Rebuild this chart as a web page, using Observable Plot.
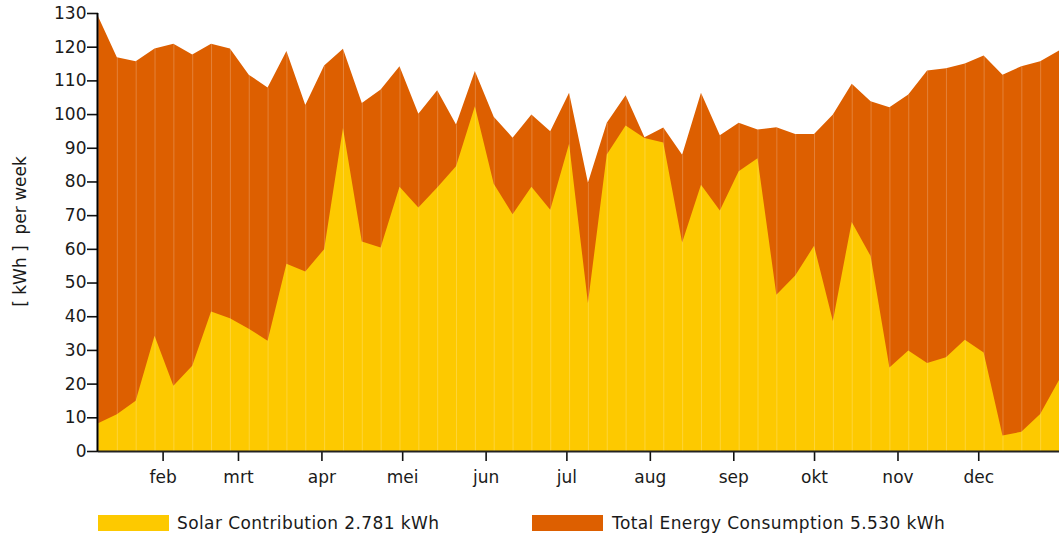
<!DOCTYPE html>
<html>
<head>
<meta charset="utf-8">
<script src="https://cdn.jsdelivr.net/npm/d3@7"></script>
<script src="https://cdn.jsdelivr.net/npm/@observablehq/plot@0.6"></script>
<style>
  html, body { margin: 0; padding: 0; background: #fff; }
  body { width: 1062px; height: 538px; overflow: hidden; font-family: "DejaVu Sans", sans-serif; }
  svg text { white-space: pre; }
  #legend { position: relative; height: 48px; }
  .sw { position: absolute; top: 25px; width: 71px; height: 16px; }
  .lt { position: absolute; top: 22px; font-size: 17px; line-height: 22px; color: #1a1a1a; letter-spacing: 0.4px; white-space: pre; }
</style>
</head>
<body>
<div id="chart"></div>
<div id="legend"></div>
<script>
// Week numbers (points at the end of each week)
const weeks = d3.range(1, 53);
// Solar contribution per week (kWh)
const solar = [8.2, 10.9, 14.9, 34.2, 19.4, 25.3, 41.4, 39.4, 36.3, 32.7,
  55.6, 53.3, 59.9, 95.9, 62.2, 60.4, 78.4, 72.3, 78.2, 84.5,
  102.3, 79.3, 70.3, 78.4, 71.6, 91.2, 43.9, 88.0, 96.6, 92.9,
  91.6, 61.9, 79.0, 71.4, 83.0, 86.9, 46.4, 52.1, 60.9, 38.6,
  68.0, 57.9, 24.8, 29.8, 26.1, 27.8, 33.0, 29.2, 4.6, 5.7,
  11.0, 21.1];
// Total energy consumption per week (kWh)
const total = [129.0, 116.9, 115.7, 119.5, 120.9, 117.7, 120.9, 119.5, 111.7, 107.9,
  118.7, 102.7, 114.4, 119.4, 103.3, 107.3, 114.2, 100.1, 107.1, 96.9,
  112.8, 99.2, 93.0, 99.9, 94.9, 106.3, 79.6, 97.4, 105.6, 93.1,
  96.0, 87.9, 106.3, 93.7, 97.4, 95.4, 96.1, 94.1, 94.1, 99.9,
  109.0, 103.8, 102.0, 105.8, 112.9, 113.6, 115.0, 117.4, 111.7, 114.2,
  115.7, 118.9];
const monthLabels = ["feb", "mrt", "apr", "mei", "jun", "jul", "aug", "sep", "okt", "nov", "dec"];
const yTicks = d3.range(0, 131, 10);
const yLabel = "[ kWh ]  per week";
const series = [
  {name: "Solar Contribution 2.781 kWh", color: "#fdc900"},
  {name: "Total Energy Consumption 5.530 kWh", color: "#dd5f00"}
];

const year = 2013;
const data = weeks.map((w, i) => ({
  date: new Date(Date.UTC(year, 0, 1 + 7 * w)),
  solar: solar[i],
  total: total[i]
}));
const monthTicks = monthLabels.map((m, i) => new Date(Date.UTC(year, i + 1, 1)));
const fmtMonth = d => monthLabels[d.getUTCMonth() - 1];
const FS = 17;

const chart = Plot.plot({
  width: 1062,
  height: 490,
  marginLeft: 98,
  marginRight: 3,
  marginTop: 13,
  marginBottom: 39,
  style: {fontFamily: "DejaVu Sans, sans-serif", fontSize: FS + "px", color: "#1a1a1a", background: "white", overflow: "visible"},
  x: {type: "utc", domain: [data[0].date, data[data.length - 1].date]},
  y: {domain: [0, 130]},
  marks: [
    Plot.areaY(data, {x: "date", y: "total", fill: series[1].color}),
    Plot.areaY(data, {x: "date", y: "solar", fill: series[0].color}),
    Plot.ruleX(data, {x: "date", y1: 0, y2: "total", stroke: "white", strokeOpacity: 0.22, strokeWidth: 1}),
    Plot.axisY({ticks: yTicks, tickSize: 11, tickPadding: 1, strokeWidth: 1.6, stroke: "#111", label: null, fontSize: FS}),
    Plot.axisX({ticks: monthTicks, tickFormat: fmtMonth, tickSize: 10, tickPadding: 9, strokeWidth: 1.6, stroke: "#111", label: null, fontSize: FS}),
    Plot.ruleY([0], {stroke: "#222", strokeWidth: 2}),
    Plot.ruleX([data[0].date], {y1: 0, y2: 130, stroke: "#000", strokeWidth: 2, dx: -1}),
    Plot.text([yLabel], {frameAnchor: "left", textAnchor: "middle", dx: -78, dy: -1, rotate: -90, text: d => d, fontSize: FS, fill: "#1a1a1a", letterSpacing: "0.8px"})
  ]
});
document.getElementById("chart").appendChild(chart);

const legend = document.getElementById("legend");
const pos = [{sw: 98, tx: 177}, {sw: 532, tx: 612}];
series.forEach((s, i) => {
  const sw = document.createElement("div");
  sw.className = "sw";
  sw.style.left = pos[i].sw + "px";
  sw.style.background = s.color;
  legend.appendChild(sw);
  const t = document.createElement("div");
  t.className = "lt";
  t.style.left = pos[i].tx + "px";
  t.textContent = s.name;
  legend.appendChild(t);
});
</script>
</body>
</html>
